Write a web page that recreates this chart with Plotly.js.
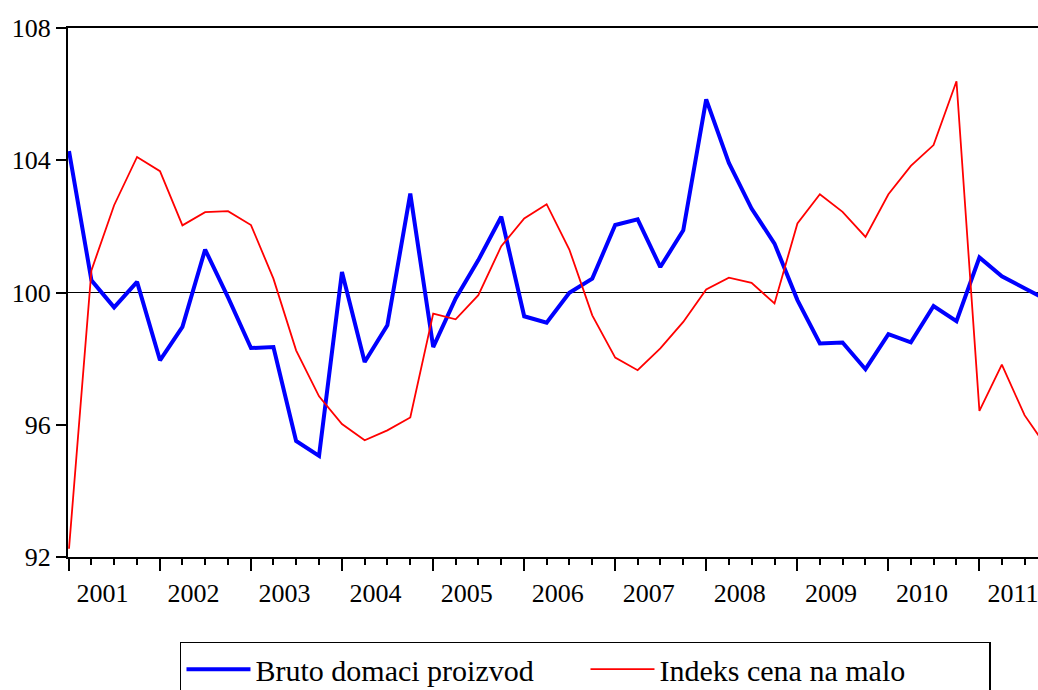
<!DOCTYPE html>
<html>
<head>
<meta charset="utf-8">
<script src="https://cdn.plot.ly/plotly-3.0.1.min.js"></script>
<style>
  html, body { margin: 0; padding: 0; background: #fff; }
  #chart { width: 1038px; height: 690px; }
</style>
</head>
<body>
<div id="chart"></div>
<script>
// Quarterly periods (quarter start dates), 2001Q1 .. 2011Q4
const quarters = [
  '2001-01-01','2001-04-01','2001-07-01','2001-10-01',
  '2002-01-01','2002-04-01','2002-07-01','2002-10-01',
  '2003-01-01','2003-04-01','2003-07-01','2003-10-01',
  '2004-01-01','2004-04-01','2004-07-01','2004-10-01',
  '2005-01-01','2005-04-01','2005-07-01','2005-10-01',
  '2006-01-01','2006-04-01','2006-07-01','2006-10-01',
  '2007-01-01','2007-04-01','2007-07-01','2007-10-01',
  '2008-01-01','2008-04-01','2008-07-01','2008-10-01',
  '2009-01-01','2009-04-01','2009-07-01','2009-10-01',
  '2010-01-01','2010-04-01','2010-07-01','2010-10-01',
  '2011-01-01','2011-04-01','2011-07-01','2011-10-01'
];

// Bruto domaci proizvod (blue, thick)
const bdp = [
  104.28, 100.37, 99.55, 100.32,
  97.95, 98.96, 101.30, 99.85,
  98.32, 98.35, 95.51, 95.06,
  100.62, 97.90, 99.01, 102.99,
  98.35, 99.82, 100.98, 102.29,
  99.28, 99.09, 99.99, 100.42,
  102.04, 102.21, 100.77, 101.88,
  105.84, 103.92, 102.54, 101.48,
  99.77, 98.46, 98.49, 97.68,
  98.74, 98.49, 99.59, 99.13,
  101.06, 100.49, 100.13, 99.77
];

// Indeks cena na malo (red, thin)
const icm = [
  92.25, 100.67, 102.64, 104.10,
  103.67, 102.03, 102.43, 102.46,
  102.04, 100.42, 98.25, 96.86,
  96.02, 95.53, 95.83, 96.22,
  99.36, 99.19, 99.92, 101.40,
  102.24, 102.67, 101.30, 99.31,
  98.03, 97.65, 98.31, 99.11,
  100.09, 100.45, 100.29, 99.67,
  102.09, 102.97, 102.44, 101.68,
  102.97, 103.83, 104.46, 106.39,
  96.42, 97.82, 96.29, 95.29
];

const yTicks = [92, 96, 100, 104, 108];
const seriesNames = ['Bruto domaci proizvod', 'Indeks cena na malo'];

const font = '"Liberation Serif", "Times New Roman", serif';

const traces = [
  { x: quarters, y: bdp, name: seriesNames[0], type: 'scatter', mode: 'lines',
    line: { color: '#0000FF', width: 4 } },
  { x: quarters, y: icm, name: seriesNames[1], type: 'scatter', mode: 'lines',
    line: { color: '#FF0000', width: 1.8 } }
];

const layout = {
  width: 1038, height: 690,
  margin: { l: 68, r: 0, t: 28, b: 133 },
  paper_bgcolor: '#fff', plot_bgcolor: '#fff',
  font: { family: font, color: '#000', size: 26 },
  showlegend: true,
  xaxis: {
    type: 'date',
    range: ['2000-12-28', '2011-08-24'],
    dtick: 'M12', tick0: '2001-01-01',
    tickformat: '%Y', ticklabelmode: 'period', ticklabelshift: -12,
    ticklabeloverflow: 'allow',
    ticks: 'outside', ticklen: 12, tickwidth: 2, tickcolor: '#000',
    minor: { dtick: 'M3', ticks: 'outside', ticklen: 6, tickwidth: 2, tickcolor: '#000', showgrid: false },
    showgrid: false, zeroline: false,
    showline: true, linecolor: '#000', linewidth: 2, mirror: true,
    tickfont: { family: font, size: 26, color: '#000' }
  },
  yaxis: {
    range: [92, 108], tickvals: yTicks, ticktext: yTicks.map(String),
    ticks: 'outside', ticklen: 10, tickwidth: 2, tickcolor: '#000',
    showgrid: false, zeroline: false,
    showline: true, linecolor: '#000', linewidth: 2, mirror: false,
    tickfont: { family: font, size: 26, color: '#000' }
  },
  shapes: [
    { type: 'line', xref: 'paper', yref: 'y', x0: 0, x1: 1, y0: 100, y1: 100,
      line: { color: '#000', width: 1.2 }, layer: 'below' }
  ],
  legend: {
    orientation: 'h', xref: 'container', yref: 'container',
    x: 0.1734, xanchor: 'left', y: 0.070, yanchor: 'top',
    bordercolor: '#000', borderwidth: 1.5, bgcolor: '#fff',
    font: { family: font, size: 30, color: '#000' },
    itemwidth: 64, entrywidth: 325, entrywidthmode: 'pixels'
  }
};

Plotly.newPlot('chart', traces, layout, { displayModeBar: false, staticPlot: true });
</script>
</body>
</html>
